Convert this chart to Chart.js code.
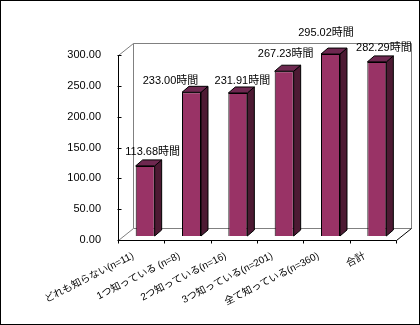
<!DOCTYPE html>
<html>
<head>
<meta charset="utf-8">
<script src="https://cdn.jsdelivr.net/npm/chart.js@4/dist/chart.umd.min.js"></script>
<style>
html,body{margin:0;padding:0;background:#fff;}
canvas{display:block;}
</style>
</head>
<body>
<canvas id="c" width="420" height="325"></canvas>
<script>
const categories = ["どれも知らない(n=11)", "1つ知っている (n=8)", "2つ知っている(n=16)", "3つ知っている(n=201)", "全て知っている(n=360)", "合計"];
const hours = [113.68, 233.00, 231.91, 267.23, 295.02, 282.29];
const yTicks = [0, 50, 100, 150, 200, 250, 300];
const unit = "時間";

const FONT = '"Liberation Sans", "Noto Sans CJK JP", sans-serif';
const SHIFT = {x: 4, y: -4};      // bars sit slightly behind the front plane
const DEPTH = {x: 7, y: -6};      // bar depth
const WALL = {x: 15, y: -12};     // back wall depth

const threeD = {
  id: 'threeD',
  beforeDraw(chart) {
    const {ctx, chartArea: a} = chart;
    ctx.save();
    ctx.fillStyle = '#fff';
    ctx.fillRect(0, 0, chart.width, chart.height);
    ctx.lineWidth = 1;
    ctx.strokeStyle = '#808080';
    ctx.beginPath();
    const L = Math.round(a.left) + 0.5, R = Math.round(a.right) + 0.5;
    const T = Math.round(a.top) + 0.5, B = Math.round(a.bottom) + 0.5;
    ctx.moveTo(L + WALL.x, B + WALL.y); ctx.lineTo(L + WALL.x, T + WALL.y);
    ctx.lineTo(R + WALL.x, T + WALL.y); ctx.lineTo(R + WALL.x, B + WALL.y);
    ctx.lineTo(L + WALL.x, B + WALL.y);
    ctx.moveTo(L, T); ctx.lineTo(L + WALL.x, T + WALL.y);
    ctx.moveTo(L, B); ctx.lineTo(L + WALL.x, B + WALL.y);
    ctx.stroke();
    ctx.strokeStyle = '#000';
    ctx.beginPath();
    ctx.moveTo(R, B); ctx.lineTo(R + WALL.x, B + WALL.y);
    ctx.stroke();
    ctx.restore();
  },
  beforeDatasetsDraw(chart) {
    const {ctx} = chart;
    ctx.save();
    ctx.translate(SHIFT.x, SHIFT.y);
    const meta = chart.getDatasetMeta(0);
    meta.data.forEach(bar => {
      const half = bar.width / 2;
      const l = bar.x - half, r = bar.x + half, t = bar.y, b = bar.base;
      ctx.lineWidth = 1;
      ctx.strokeStyle = '#000';
      ctx.beginPath();
      ctx.moveTo(r, b); ctx.lineTo(r + DEPTH.x, b + DEPTH.y);
      ctx.lineTo(r + DEPTH.x, t + DEPTH.y); ctx.lineTo(r, t); ctx.closePath();
      ctx.fillStyle = '#4d1a33'; ctx.fill(); ctx.stroke();
      ctx.beginPath();
      ctx.moveTo(l, t); ctx.lineTo(l + DEPTH.x, t + DEPTH.y);
      ctx.lineTo(r + DEPTH.x, t + DEPTH.y); ctx.lineTo(r, t); ctx.closePath();
      ctx.fillStyle = '#6e2850'; ctx.fill(); ctx.stroke();
    });
  },
  afterDatasetsDraw(chart) {
    chart.ctx.restore();
  },
  afterDraw(chart, args, opts) {
    const {ctx, chartArea: a} = chart;
    const ys = chart.scales.y, xs = chart.scales.x;
    ctx.save();
    ctx.strokeStyle = '#000';
    ctx.lineWidth = 1;
    const L = Math.round(a.left) + 0.5, R = Math.round(a.right) + 0.5;
    const B = Math.round(a.bottom) + 0.5;
    ctx.beginPath();
    ctx.moveTo(L, Math.round(a.top) + 0.5); ctx.lineTo(L, B); ctx.lineTo(R, B);
    yTicks.forEach(v => {
      const y = Math.round(ys.getPixelForValue(v)) + 0.5;
      ctx.moveTo(L - 1, y); ctx.lineTo(L + 3, y);
    });
    for (let i = 0; i <= categories.length; i++) {
      const x = Math.round(xs.left + (xs.right - xs.left) * i / categories.length) + 0.5;
      ctx.moveTo(x, B); ctx.lineTo(x, B + 3);
    }
    ctx.stroke();
    ctx.font = '11px ' + FONT;
    ctx.fillStyle = '#000';
    ctx.textAlign = 'center';
    ctx.textBaseline = 'middle';
    const meta = chart.getDatasetMeta(0);
    meta.data.forEach((bar, i) => {
      const n = opts.nudge[i];
      ctx.fillText(hours[i].toFixed(2) + unit, bar.x + SHIFT.x + 3.5 + n[0], bar.y + SHIFT.y - 14 + n[1]);
    });
    ctx.strokeRect(0.5, 0.5, chart.width - 1, chart.height - 1);
    ctx.restore();
  }
};

new Chart(document.getElementById('c'), {
  type: 'bar',
  data: {
    labels: categories,
    datasets: [{
      data: hours,
      backgroundColor: '#993366',
      borderColor: '#000',
      borderWidth: 1,
      barPercentage: 0.41,
      categoryPercentage: 1
    }]
  },
  options: {
    responsive: false,
    animation: false,
    events: [],
    layout: {padding: {left: 0, top: 55, right: 24, bottom: 0}},
    plugins: {
      legend: {display: false},
      tooltip: {enabled: false},
      threeD: {nudge: [[4, 0], [-24.5, 3], [1, 2], [-2, -3], [-8, -7], [3.5, 0]]}
    },
    scales: {
      y: {
        min: 0, max: 300,
        afterFit(s) { s.width = 118; },
        afterBuildTicks(s) { s.ticks = yTicks.map(v => ({value: v})); },
        grid: {display: false},
        border: {display: false},
        ticks: {
          padding: 9,
          color: '#000',
          font: {family: FONT, size: 11},
          callback: v => Number(v).toFixed(2)
        }
      },
      x: {
        afterFit(s) { s.height = 85; },
        grid: {display: false},
        border: {display: false},
        ticks: {
          autoSkip: false,
          minRotation: 27,
          maxRotation: 27,
          padding: 2,
          labelOffset: -8,
          color: '#000',
          font: {family: FONT, size: 10}
        }
      }
    }
  },
  plugins: [threeD]
});
</script>
</body>
</html>
